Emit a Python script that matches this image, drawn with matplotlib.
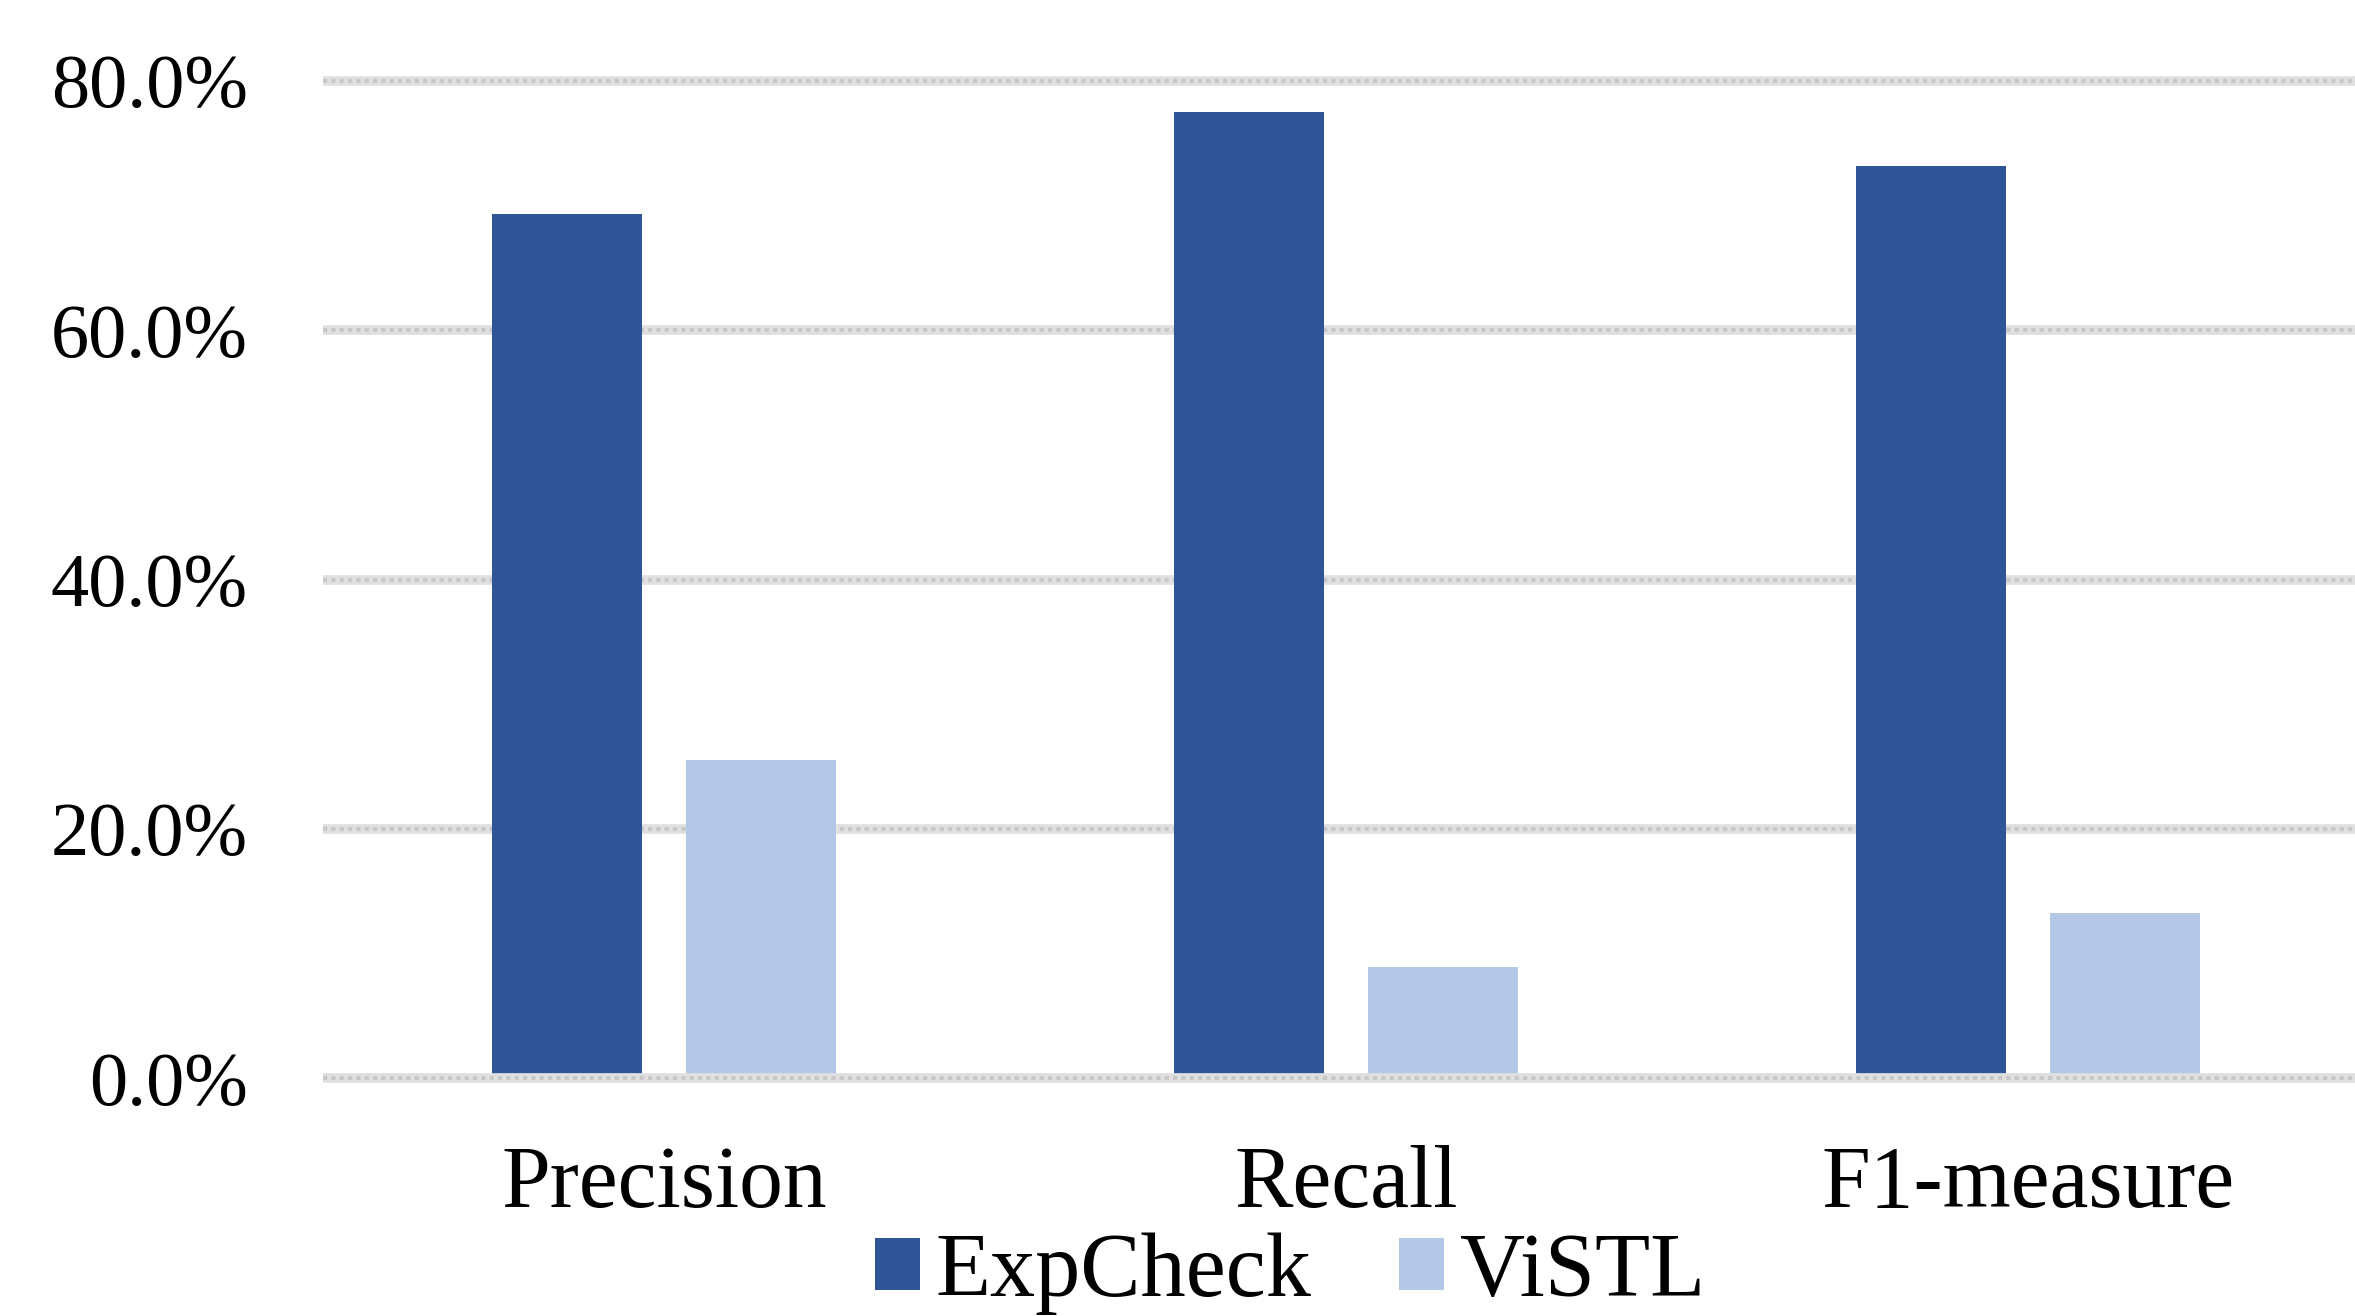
import numpy as np
import matplotlib
matplotlib.use('Agg')
import matplotlib.pyplot as plt
from matplotlib.ticker import FuncFormatter

categories = ['Precision', 'Recall', 'F1-measure']
expcheck = [69.3, 77.5, 73.2]
vistl = [25.5, 8.9, 13.2]
series_names = ['ExpCheck', 'ViSTL']
yticks = [0, 20, 40, 60, 80]

plt.rcParams['font.family'] = ['Liberation Serif', 'DejaVu Serif']

W, H = 2355, 1316
fig = plt.figure(figsize=(W / 100, H / 100), dpi=100)

# axes box in pixels: left 323, bottom of 0% line at 1078, 80% line at 81
y_lo, y_hi = -2, 82
px_per = (1078 - 81) / 80.0
bot_px = 1078 + (0 - y_lo) * px_per
top_px = 81 - (y_hi - 80) * px_per
ax = fig.add_axes([323 / W, 1 - bot_px / H, (W - 323) / W, (bot_px - top_px) / H])

x = np.arange(len(categories))
w = 0.22
off = 0.142
ax.bar(x - off, expcheck, w, color='#2F5597', label=series_names[0], zorder=3)
ax.bar(x + off, vistl, w, color='#B4C7E7', label=series_names[1], zorder=3)

for t in yticks:
    z = 4 if t == 0 else 1
    ax.axhline(t, color='#e0e0e0', lw=7, zorder=z)
    ax.axhline(t, color='#c8c8c8', lw=3, ls=(0, (1, 1)), zorder=z)

ax.set_xlim(-0.5, 2.48)
ax.set_ylim(y_lo, y_hi)
ax.set_yticks(yticks)
ax.yaxis.set_major_formatter(FuncFormatter(lambda v, p: f'{v:.1f}%'))
ax.set_xticks(x)
ax.set_xticklabels(categories)
ax.tick_params(axis='y', length=0, pad=54, labelsize=55)
ax.tick_params(axis='x', length=0, pad=30, labelsize=63)
for s in ax.spines.values():
    s.set_visible(False)

fig.legend(loc='center', bbox_to_anchor=(1290 / W, 1 - 1274 / H), ncol=2,
           frameon=False, fontsize=65, handlelength=0.5, handleheight=0.5,
           handletextpad=0.17, columnspacing=0.97, borderpad=0, borderaxespad=0)

fig.savefig('out.png', dpi=100)
